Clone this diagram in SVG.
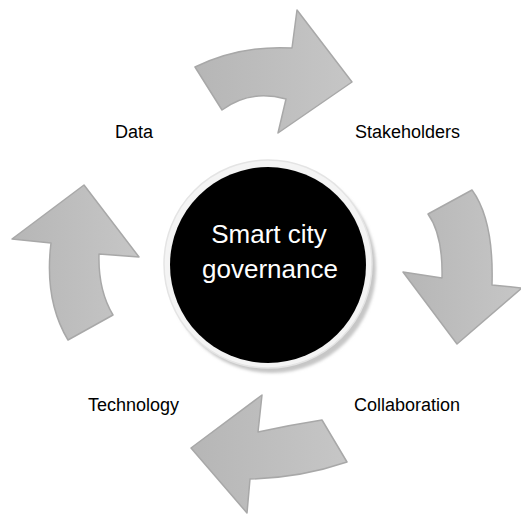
<svg xmlns="http://www.w3.org/2000/svg" width="521" height="515" viewBox="0 0 521 515">
<defs>
<linearGradient id="g" x1="0" y1="0" x2="1" y2="0">
<stop offset="0" stop-color="#b6b6b6"/>
<stop offset="1" stop-color="#c6c6c6"/>
</linearGradient>
<filter id="blur" x="-20%" y="-20%" width="140%" height="140%"><feGaussianBlur stdDeviation="1.5"/></filter>
<style>
.arrow{fill:url(#g);stroke:#a8a8a8;stroke-width:1.5;stroke-linejoin:round}
.lbl{font-family:"Liberation Sans",Arial,sans-serif;font-size:18px;fill:#000}
.ctr{font-family:"Liberation Sans",Arial,sans-serif;font-size:26px;fill:#fff;text-anchor:middle}
</style>
</defs>
<g id="connectors">
<path id="arrow-top" class="arrow" d="M195,67 Q240,45 292,48 L297,10 L352,82 L278,133 L286,99 Q250,89 222,110 Z"/>
<path id="arrow-right" class="arrow" d="M472,190 Q494,220 492,285 L522,288 L457,344 L403,272 L442,278 Q443,235 428,214 Z"/>
<path id="arrow-bottom" class="arrow" d="M347,462 Q300,478 250,479 L247,513 L191,448 L262,395 L258,432 Q290,425 322,420 Z"/>
<path id="arrow-left" class="arrow" d="M68,340 Q44,300 51,243 L12,239 L84,185 L139,257 L99,254 Q98,290 113,315 Z"/>
</g>
<g id="center">
<circle cx="272" cy="269" r="104" fill="#c6c6c6" filter="url(#blur)"/>
<circle cx="268" cy="264" r="104" fill="#f4f4f4" stroke="#e4e4e4" stroke-width="1.5"/>
<circle cx="268" cy="265" r="98" fill="#000"/>
<text class="ctr" x="269" y="243">Smart city</text>
<text class="ctr" x="270" y="278">governance</text>
</g>
<g id="data"><text class="lbl" x="115" y="138">Data</text></g>
<g id="stakeholders"><text class="lbl" x="355" y="138">Stakeholders</text></g>
<g id="technology"><text class="lbl" x="88" y="411">Technology</text></g>
<g id="collaboration"><text class="lbl" x="354" y="411">Collaboration</text></g>
</svg>
